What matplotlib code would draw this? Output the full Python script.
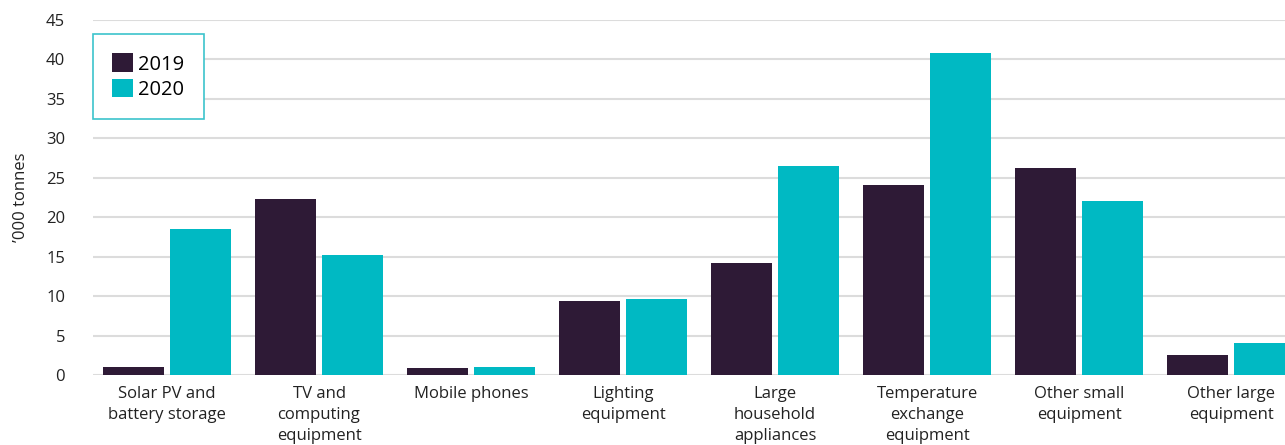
import numpy as np
import matplotlib
matplotlib.use("Agg")
import matplotlib.pyplot as plt

categories = ["Solar PV and\nbattery storage", "TV and\ncomputing\nequipment", "Mobile phones",
              "Lighting\nequipment", "Large\nhousehold\nappliances", "Temperature\nexchange\nequipment",
              "Other small\nequipment", "Other large\nequipment"]
vals_2019 = [1.0, 22.3, 0.9, 9.4, 14.2, 24.1, 26.2, 2.5]
vals_2020 = [18.5, 15.2, 1.0, 9.6, 26.5, 40.8, 22.0, 4.05]

DARK = "#2e1a36"
CYAN = "#00b9c3"

plt.rcParams["font.family"] = ["Open Sans", "DejaVu Sans"]

fig = plt.figure(figsize=(12.85, 4.45), dpi=100)
ax = fig.add_axes([93 / 1285, 70 / 445, 1 - 93 / 1285, 355 / 445])

x = np.arange(len(categories))
w = 0.40
off = 0.22
ax.bar(x - off, vals_2019, w, color=DARK, label="2019", zorder=3)
ax.bar(x + off, vals_2020, w, color=CYAN, label="2020", zorder=3)

ax.set_xlim(-0.487, 7.355)
ax.set_ylim(0, 45)
ax.set_yticks(range(0, 50, 5))
ax.set_xticks(x)
ax.set_xticklabels(categories, fontsize=12, color="#222222", linespacing=1.4)
ax.tick_params(axis="both", length=0, labelsize=12, colors="#222222")
ax.tick_params(axis="y", pad=20)
ax.tick_params(axis="x", pad=8)
ax.yaxis.grid(True, color="#dcdcdc", linewidth=1.5, zorder=0)
ax.set_axisbelow(True)
for s in ax.spines.values():
    s.set_visible(False)
ax.set_ylabel("’000 tonnes", fontsize=12, color="#222222", labelpad=12)

leg = ax.legend(loc="upper left", bbox_to_anchor=(0.0, 0.96), borderaxespad=0,
                fontsize=14.5, handlelength=1.05, handleheight=1.05, handletextpad=0.25,
                borderpad=0.95, labelspacing=0.2, fancybox=False, framealpha=1)
leg.get_frame().set_edgecolor("#3cc4cc")
leg.get_frame().set_linewidth(1.2)

fig.savefig("out.png", dpi=100)
